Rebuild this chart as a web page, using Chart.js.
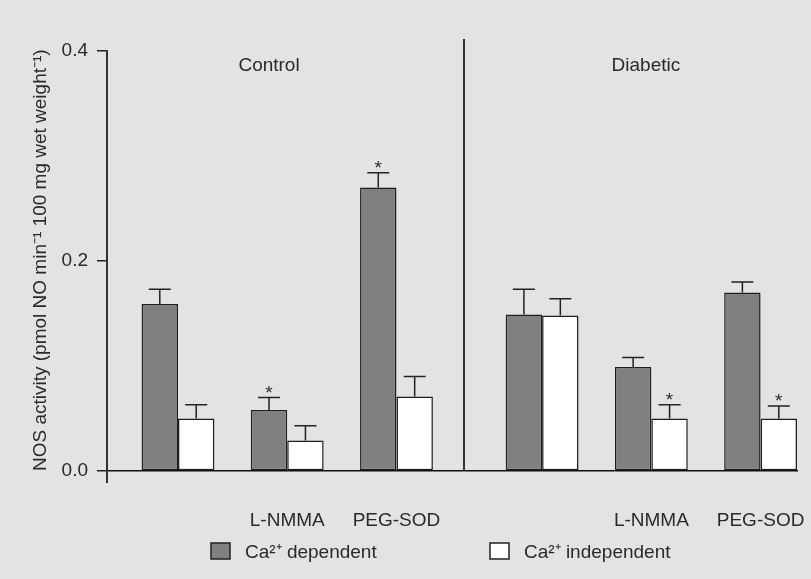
<!DOCTYPE html>
<html><head><meta charset="utf-8">
<script src="https://cdn.jsdelivr.net/npm/chart.js@4.4.0/dist/chart.umd.min.js"></script>
<style>html,body{margin:0;padding:0;background:#e3e3e3;}canvas{display:block;}</style>
</head><body>
<canvas id="c" width="811" height="579"></canvas>
<script>
// ---- data ----
const groupNames = ['Control', 'Diabetic'];
const treatments = ['', 'L-NMMA', 'PEG-SOD', '', 'L-NMMA', 'PEG-SOD'];
const seriesNames = ['Ca²⁺ dependent', 'Ca²⁺ independent'];
const dependent      = [0.159, 0.058, 0.270, 0.149, 0.099, 0.170];
const dependentErr   = [0.014, 0.012, 0.014, 0.024, 0.009, 0.010];
const independent    = [0.050, 0.029, 0.071, 0.148, 0.050, 0.050];
const independentErr = [0.013, 0.014, 0.019, 0.016, 0.013, 0.012];
const dependentSig   = [false, true, true, false, false, false];
const independentSig = [false, false, false, false, true, true];
const yTicks = [0.0, 0.2, 0.4];
const yTitle = 'NOS activity (pmol NO min⁻¹ 100 mg wet weight⁻¹)';

// ---- layout (x positions in axis units, not data) ----
const slotPos = [0, 3, 6, 10, 13, 16];
const groupTitlePos = [2.5, 12.85];
const dividerPos = 7.85;

const FONT = '"Liberation Sans", Arial, sans-serif';
const INK = '#2a2a2a';
Chart.defaults.font.family = FONT;
Chart.defaults.font.size = 19;
Chart.defaults.color = INK;

const errs = [dependentErr, independentErr];
const sigs = [dependentSig, independentSig];
const vals = [dependent, independent];
const fills = ['#808080', '#ffffff'];

const decor = {
  id: 'decor',
  beforeDraw(chart) {
    const ctx = chart.ctx;
    ctx.save();
    ctx.fillStyle = '#e3e3e3';
    ctx.fillRect(0, 0, chart.width, chart.height);
    ctx.restore();
  },
  afterDatasetsDraw(chart) {
    const {ctx, chartArea, scales: {x, y}} = chart;
    ctx.save();
    ctx.strokeStyle = '#333';
    ctx.lineWidth = 2;
    // y-axis extension below baseline
    ctx.beginPath();
    ctx.moveTo(chartArea.left, chartArea.bottom);
    ctx.lineTo(chartArea.left, chartArea.bottom + 12);
    ctx.stroke();
    // divider between groups
    const dx = Math.round(x.getPixelForValue(dividerPos));
    ctx.beginPath();
    ctx.moveTo(dx, chartArea.top - 12);
    ctx.lineTo(dx, chartArea.bottom);
    ctx.stroke();
    // group titles
    ctx.fillStyle = INK;
    ctx.font = '19px ' + FONT;
    ctx.textAlign = 'center';
    ctx.textBaseline = 'alphabetic';
    groupNames.forEach((g, i) => {
      ctx.fillText(g, x.getPixelForValue(groupTitlePos[i]), chartArea.top + 20);
    });
    // error bars + significance stars
    ctx.strokeStyle = '#222';
    ctx.lineWidth = 1.5;
    for (let d = 0; d < 2; d++) {
      const meta = chart.getDatasetMeta(d);
      meta.data.forEach((bar, i) => {
        const yTop = bar.y;
        const yCap = y.getPixelForValue(vals[d][i] + errs[d][i]);
        ctx.beginPath();
        ctx.moveTo(bar.x, yTop);
        ctx.lineTo(bar.x, yCap);
        ctx.moveTo(bar.x - 11, yCap);
        ctx.lineTo(bar.x + 11, yCap);
        ctx.stroke();
        if (sigs[d][i]) {
          ctx.fillText('*', bar.x, yCap + 1.5);
        }
      });
    }
    // legend
    const legX = [211, 490];
    const boxY = 543;
    ctx.textAlign = 'left';
    ctx.lineWidth = 1.5;
    seriesNames.forEach((name, d) => {
      ctx.fillStyle = fills[d];
      ctx.fillRect(legX[d], boxY, 19, 16);
      ctx.strokeStyle = '#222';
      ctx.strokeRect(legX[d], boxY, 19, 16);
      ctx.fillStyle = INK;
      ctx.fillText(name, legX[d] + 34, boxY + 15);
    });
    ctx.restore();
  }
};

new Chart(document.getElementById('c'), {
  type: 'bar',
  data: {
    datasets: [
      {
        label: seriesNames[0],
        data: dependent.map((v, i) => ({x: slotPos[i], y: v})),
        backgroundColor: fills[0],
        borderColor: '#1e1e1e',
        borderWidth: 1.5,
        borderSkipped: false
      },
      {
        label: seriesNames[1],
        data: independent.map((v, i) => ({x: slotPos[i], y: v})),
        backgroundColor: fills[1],
        borderColor: '#1e1e1e',
        borderWidth: 1.5,
        borderSkipped: false
      }
    ]
  },
  options: {
    responsive: false,
    animation: false,
    devicePixelRatio: 1,
    categoryPercentage: 2 / 3,
    barPercentage: 1,
    layout: {padding: {top: 51, right: 14, bottom: 48, left: 0}},
    plugins: {legend: {display: false}, tooltip: {enabled: false}},
    scales: {
      x: {
        type: 'linear',
        offset: false,
        min: -1.95,
        max: 17,
        afterBuildTicks: s => { s.ticks = slotPos.map(v => ({value: v})); },
        afterFit: s => { s.height = 60; s.paddingLeft = 0; s.paddingRight = 0; },
        grid: {display: false, drawTicks: false},
        border: {display: true, color: '#111', width: 1.5},
        ticks: {
          autoSkip: false,
          maxRotation: 0,
          padding: 38,
          color: INK,
          callback: (v, i) => treatments[i]
        }
      },
      y: {
        type: 'linear',
        min: 0,
        max: 0.4,
        afterBuildTicks: s => { s.ticks = yTicks.map(v => ({value: v})); },
        afterFit: s => { s.width = 107; s.paddingTop = 0; s.paddingBottom = 0; },
        grid: {display: true, drawOnChartArea: false, drawTicks: true, tickLength: 10, color: '#222', lineWidth: 1.5},
        border: {display: true, color: '#333', width: 2},
        ticks: {padding: 9, color: INK, callback: v => v.toFixed(1)},
        title: {display: true, text: yTitle, align: 'start', color: INK, padding: {top: 29, bottom: 0}, font: {size: 19}}
      }
    }
  },
  plugins: [decor]
});
</script>
</body></html>
